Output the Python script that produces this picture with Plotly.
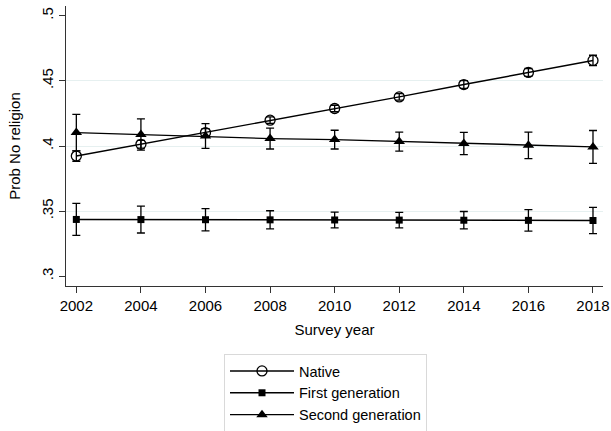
import plotly.graph_objects as go

years = [2002, 2004, 2006, 2008, 2010, 2012, 2014, 2016, 2018]

native = [0.3923, 0.4013, 0.4103, 0.4198, 0.4288, 0.4377, 0.4472, 0.4565, 0.4657]
native_ci = [0.004, 0.003, 0.003, 0.0025, 0.0025, 0.0025, 0.003, 0.003, 0.004]

first_gen = [0.3436, 0.3435, 0.3434, 0.3433, 0.3432, 0.3431, 0.3430, 0.3429, 0.3428]
first_ci = [0.0123, 0.0103, 0.0085, 0.007, 0.006, 0.006, 0.0067, 0.0082, 0.0101]

second_gen = [0.4103, 0.4088, 0.4077, 0.4057, 0.4049, 0.4034, 0.4019, 0.4005, 0.3993]
second_ci = [0.014, 0.012, 0.0095, 0.008, 0.0072, 0.0073, 0.0085, 0.0102, 0.0126]

y_ticks = [0.3, 0.35, 0.4, 0.45, 0.5]
y_ticklabels = [".3", ".35", ".4", ".45", ".5"]
grid_vals = [0.35, 0.4, 0.45]

FONT = "Arial, Liberation Sans, sans-serif"
BLACK = "#000000"

def err(vals):
    return dict(type="data", array=vals, visible=True, color=BLACK, thickness=1.3, width=4)

fig = go.Figure()
fig.add_trace(go.Scatter(
    x=years, y=native, name="Native", mode="lines+markers",
    line=dict(color=BLACK, width=1.4),
    marker=dict(symbol="circle-open", size=10, color=BLACK, line=dict(width=1.3, color=BLACK)),
    error_y=err(native_ci),
))
fig.add_trace(go.Scatter(
    x=years, y=first_gen, name="First generation", mode="lines+markers",
    line=dict(color=BLACK, width=1.4),
    marker=dict(symbol="square", size=7, color=BLACK),
    error_y=err(first_ci),
))
fig.add_trace(go.Scatter(
    x=years, y=second_gen, name="Second generation", mode="lines+markers",
    line=dict(color=BLACK, width=1.4),
    marker=dict(symbol="triangle-up", size=10, color=BLACK),
    error_y=err(second_ci),
))
# invisible trace on grid axis to activate it
fig.add_trace(go.Scatter(x=[years[0]], y=[grid_vals[0]], yaxis="y2", mode="markers",
                         marker=dict(opacity=0), showlegend=False, hoverinfo="skip"))

yr = [0.2925, 0.5075]
fig.update_layout(
    width=611, height=431,
    margin=dict(l=66, r=8, t=6, b=145, autoexpand=False),
    paper_bgcolor="white", plot_bgcolor="white",
    font=dict(family=FONT, size=15, color=BLACK),
    showlegend=True,
    legend=dict(
        x=(224 - 66) / 537, y=(286 - 354) / 280,
        xanchor="left", yanchor="top",
        bordercolor="#d9d9d9", borderwidth=1, bgcolor="white",
        font=dict(family=FONT, size=14.5, color=BLACK),
        tracegroupgap=0, itemwidth=64,
    ),
    xaxis=dict(
        range=[2001.68, 2018.31], tickvals=years, ticktext=[str(y) for y in years],
        tickangle=0,
        showgrid=False, zeroline=False, showline=True, linecolor="#333333", linewidth=1.3,
        ticks="outside", ticklen=6, tickcolor="#333333", tickwidth=1.2,
        tickfont=dict(family=FONT, size=15, color=BLACK),
        title=dict(text="Survey year", font=dict(family=FONT, size=15, color=BLACK), standoff=11),
    ),
    yaxis=dict(
        range=yr, tickvals=y_ticks, ticktext=y_ticklabels, tickangle=-90,
        showgrid=False, zeroline=False, showline=True, linecolor="#333333", linewidth=1.3,
        ticks="outside", ticklen=6, tickcolor="#333333", tickwidth=1.2,
        tickfont=dict(family=FONT, size=15, color=BLACK),
        title=dict(text="Prob No religion", font=dict(family=FONT, size=15, color=BLACK), standoff=14),
    ),
    yaxis2=dict(
        range=yr, overlaying="y", tickvals=grid_vals, showticklabels=False,
        showgrid=True, gridcolor="#e6f0f0", gridwidth=1.2, zeroline=False, showline=False,
        layer="below traces",
    ),
)

fig.write_html("out.html", config={"displayModeBar": False},
               post_script="document.body.style.margin='0';document.body.style.padding='0';")
